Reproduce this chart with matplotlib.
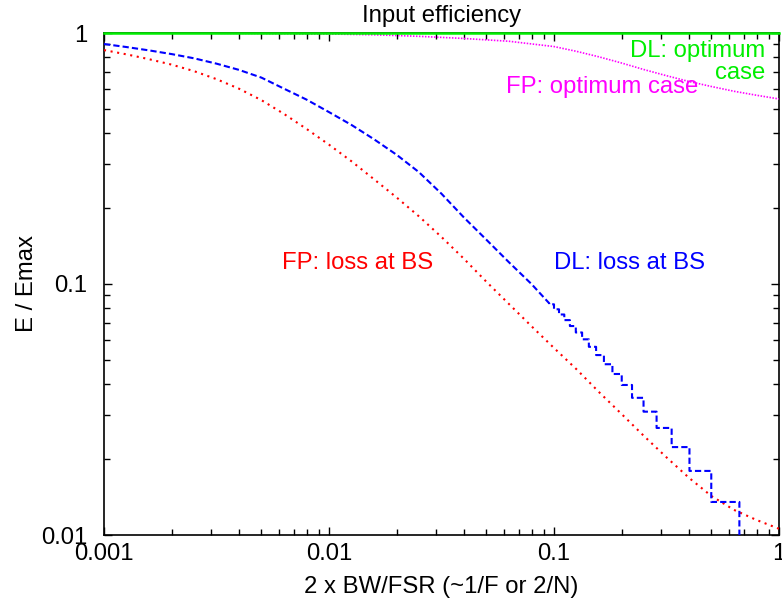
import numpy as np
import matplotlib
matplotlib.use("Agg")
import matplotlib.pyplot as plt
from matplotlib.ticker import LogLocator, NullFormatter, FixedLocator, FixedFormatter

plt.rcParams['font.family'] = ['Liberation Sans', 'DejaVu Sans']

# ---- data ----
dl_opt_x = [0.001, 1.0]
dl_opt_y = [1.0, 1.0]

fp_opt_x = [0.001, 0.00316, 0.01, 0.0158, 0.0251, 0.0398, 0.0631, 0.1, 0.126, 0.158, 0.2,
            0.251, 0.316, 0.398, 0.501, 0.631, 0.794, 1.0]
fp_opt_y = [1.0, 0.998, 0.991, 0.984, 0.970, 0.951, 0.927, 0.883, 0.845, 0.804, 0.759,
            0.715, 0.676, 0.641, 0.612, 0.586, 0.565, 0.546]

fp_loss_x = [0.001, 0.00126, 0.00158, 0.002, 0.00251, 0.00316, 0.00398, 0.00501, 0.00631, 0.00794,
             0.01, 0.0126, 0.0158, 0.02, 0.0251, 0.0316, 0.0398, 0.0501, 0.0631, 0.0794,
             0.1, 0.126, 0.158, 0.2, 0.251, 0.316, 0.398, 0.501, 0.631, 0.794, 1.0]
fp_loss_y = [0.855, 0.822, 0.787, 0.748, 0.705, 0.655, 0.600, 0.540, 0.476, 0.415,
             0.359, 0.308, 0.262, 0.221, 0.186, 0.154, 0.126, 0.102, 0.0832, 0.0679,
             0.0556, 0.0457, 0.0372, 0.0303, 0.0248, 0.0204, 0.0169, 0.01429, 0.01259, 0.01148, 0.01059]

# DL loss at BS: smooth part for small bandwidths
dl_loss_x = [0.001, 0.00126, 0.00158, 0.002, 0.00251, 0.00316, 0.00398, 0.00501, 0.00631, 0.00794,
             0.01, 0.0126, 0.0158, 0.02, 0.0251, 0.0316, 0.0398, 0.0501, 0.0631, 0.0794, 0.0952]
dl_loss_y = [0.904, 0.879, 0.853, 0.824, 0.793, 0.755, 0.713, 0.664, 0.600, 0.543,
             0.484, 0.430, 0.378, 0.327, 0.279, 0.229, 0.184, 0.150, 0.122, 0.100, 0.0838]
# DL loss at BS: staircase part, value for integer N (x range 2/(N+1) .. 2/N)
dl_step_n = [20, 19, 18, 17, 16, 15, 14, 13, 12, 11, 10, 9, 8, 7, 6, 5, 4, 3]
dl_step_y = [0.0830, 0.0793, 0.0756, 0.0718, 0.0680, 0.0641, 0.0602, 0.0562, 0.0521, 0.0479,
             0.0438, 0.0396, 0.0352, 0.0310, 0.0267, 0.0224, 0.0180, 0.01354]
dl_end_y = 0.005

x_ticks = [0.001, 0.01, 0.1, 1]
x_tick_labels = ["0.001", "0.01", "0.1", "1"]
y_ticks = [0.01, 0.1, 1]
y_tick_labels = ["0.01", "0.1", "1"]

# build staircase
sx, sy = list(dl_loss_x), list(dl_loss_y)
for n, v in zip(dl_step_n, dl_step_y):
    sx += [2.0 / (n + 1), 2.0 / n]
    sy += [v, v]
sx.append(2.0 / dl_step_n[-1])
sy.append(dl_end_y)

fig = plt.figure(figsize=(7.82, 6.03), dpi=100)
ax = fig.add_axes([104 / 782, 68 / 603, 675 / 782, 502 / 603])
ax.set_xscale('log')
ax.set_yscale('log')
ax.set_xlim(0.001, 1)
ax.set_ylim(0.01, 1)

FS = 17.2
ax.plot(fp_loss_x, fp_loss_y, color='#ff0000', lw=1.5, dashes=(1, 2.2), zorder=3)
ax.plot(sx, sy, color='#0000ff', lw=1.5, dashes=(3, 1.5), zorder=4)
ax.plot(fp_opt_x, fp_opt_y, color='#ff00ff', lw=1.2, dashes=(0.9, 0.9), zorder=3)
ax.plot(dl_opt_x, dl_opt_y, color='#00ee00', lw=1.8, zorder=5, clip_on=False)

ax.xaxis.set_major_locator(FixedLocator(x_ticks))
ax.xaxis.set_major_formatter(FixedFormatter(x_tick_labels))
ax.yaxis.set_major_locator(FixedLocator(y_ticks))
ax.yaxis.set_major_formatter(FixedFormatter(y_tick_labels))
ax.xaxis.set_minor_locator(LogLocator(base=10, subs=np.arange(2, 10)))
ax.yaxis.set_minor_locator(LogLocator(base=10, subs=np.arange(2, 10)))
ax.xaxis.set_minor_formatter(NullFormatter())
ax.yaxis.set_minor_formatter(NullFormatter())

ax.tick_params(which='both', direction='in', top=True, right=True, width=1.0, color='black')
ax.tick_params(which='major', length=6)
ax.tick_params(which='minor', length=4)
ax.tick_params(axis='x', which='major', pad=6, labelsize=FS)
ax.tick_params(axis='y', which='major', pad=12, labelsize=FS)
for s in ax.spines.values():
    s.set_linewidth(1.2)

ax.set_xlabel("2 x BW/FSR (~1/F or 2/N)", fontsize=FS, labelpad=8)
ax.set_ylabel("E / Emax", fontsize=FS, labelpad=2)
ax.set_title("Input efficiency", fontsize=FS, pad=8)

ax.text(0.0062, 0.121, "FP: loss at BS", color='#ff0000', fontsize=FS, ha='left', va='center')
ax.text(0.1, 0.121, "DL: loss at BS", color='#0000ff', fontsize=FS, ha='left', va='center')
ax.text(0.436, 0.611, "FP: optimum case", color='#ff00ff', fontsize=FS, ha='right', va='center')
ax.text(0.867, 0.765, "DL: optimum\ncase", color='#00ee00', fontsize=FS, ha='right', va='center',
        multialignment='right', linespacing=1.0)

fig.savefig("out.png", dpi=100)
